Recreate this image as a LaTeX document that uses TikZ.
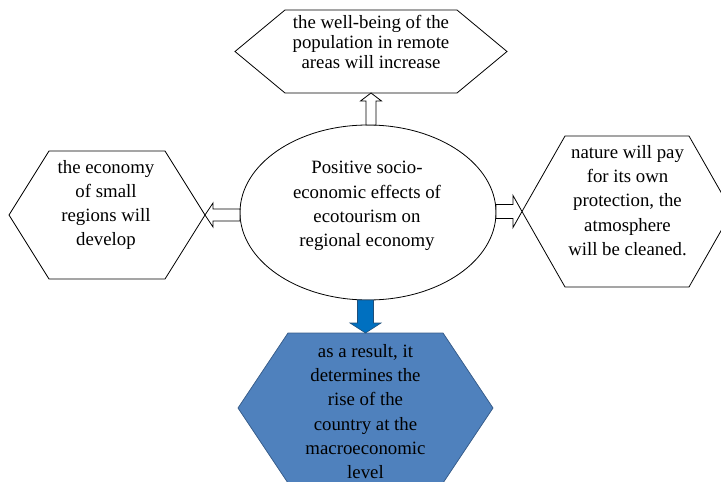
\documentclass[tikz,border=0pt]{standalone}
\usepackage{fontspec}
\setmainfont{Liberation Serif}
\usetikzlibrary{calc,shapes.geometric}

\definecolor{hexblue}{RGB}{79,129,189}
\definecolor{hexedge}{RGB}{56,93,138}
\definecolor{arrowblue}{RGB}{0,112,192}
\definecolor{arrowedge}{RGB}{31,78,121}

\tikzset{
  fatarrow/.style n args={3}{to path={let \p1=(\tikztostart), \p2=(\tikztotarget),
      \n1={veclen(\x2-\x1,\y2-\y1)-#3}, \p3=($(\p1)!\n1!(\p2)$) in
      ($(\p1)!#1!90:(\p2)$) -- ($(\p3)!#1!90:(\p2)$) -- ($(\p3)!#2!90:(\p2)$) -- (\p2)
      -- ($(\p3)!#2!-90:(\p2)$) -- ($(\p3)!#1!-90:(\p2)$) -- ($(\p1)!#1!-90:(\p2)$) -- cycle}}
}

\begin{document}
\begin{tikzpicture}[x=1pt, y=-1pt,
    hexbox/.style={rectangle, inner sep=0pt, outer sep=0pt},
    hexline/.style={draw=black, line width=0.8pt},
    txt/.style={align=center, inner sep=0pt, font=\fontsize{18.8}{24.2}\selectfont},
    hollow/.style={draw=black, line width=0.8pt, fill=white}]
        \useasboundingbox (0,0) rectangle (721,482);

        \node[hexbox, minimum width=272pt, minimum height=83pt] (wellbeing) at (371,51.5) {};
        \node[hexbox, minimum width=196pt, minimum height=128pt] (economy) at (107,215) {};
        \node[hexbox, minimum width=210pt, minimum height=151pt] (nature) at (627,211.5) {};
        \node[hexbox, minimum width=255pt, minimum height=150pt] (result) at (365.5,408) {};
        \node[ellipse, draw, line width=0.8pt, inner sep=0pt, outer sep=0pt,
              minimum width=256pt, minimum height=175pt] (effects) at (368,212.5) {};

        \foreach \h/\c in {wellbeing/50pt, economy/40pt, nature/43pt}
          \draw[hexline] (\h.west) -- ([xshift=\c]\h.north west) -- ([xshift=-\c]\h.north east) -- (\h.east)
            -- ([xshift=-\c]\h.south east) -- ([xshift=\c]\h.south west) -- cycle;
        \draw[hexline, draw=hexedge, fill=hexblue] (result.west) -- ([xshift=50pt]result.north west)
            -- ([xshift=-50pt]result.north east) -- (result.east)
            -- ([xshift=-50pt]result.south east) -- ([xshift=50pt]result.south west) -- cycle;

        \draw[hollow, fatarrow={5pt}{10.5pt}{8pt}] (wellbeing.south |- effects.north) to (wellbeing.south);
        \draw[hollow, fatarrow={6pt}{12pt}{8pt}] (economy.east -| effects.west) to (economy.east);
        \draw[hollow, fatarrow={7pt}{16pt}{9pt}] (nature.west -| effects.east) to (nature.west);
        \draw[draw=arrowedge, line width=0.6pt, fill=arrowblue, fatarrow={8pt}{15.5pt}{10pt}]
            (result.north |- effects.south) to (result.north);

        \node[txt, font=\fontsize{18.8}{20}\selectfont] (wellbeingtxt) at (371,41.5)
            {the well-being of the\\population in remote\\areas will increase};
        \node[txt] (economytxt) at (106,205) {the economy\\of small\\regions will\\develop};
        \node[txt] (naturetxt) at (627.5,200.5) {nature will pay\\for its own\\protection, the\\atmosphere\\will be cleaned.};
        \node[txt] (effectstxt) at (367,206) {Positive socio-\\economic effects of\\ecotourism on\\regional economy};
        \node[txt] (resulttxt) at (365.5,411.5) {as a result, it\\determines the\\rise of the\\country at the\\macroeconomic\\level};
      \end{tikzpicture}
\end{document}
